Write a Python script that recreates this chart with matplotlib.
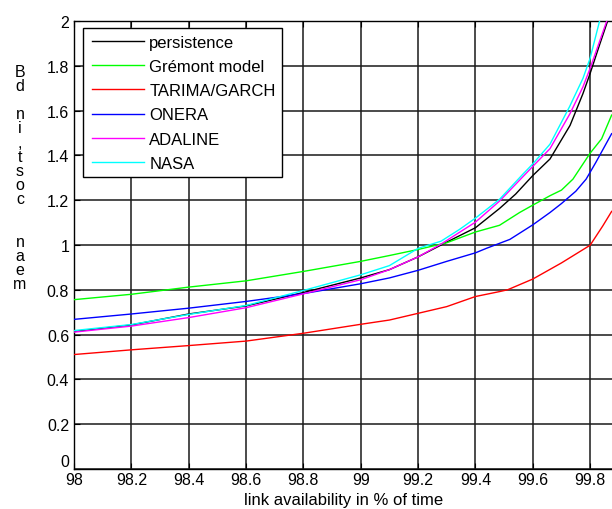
import matplotlib
matplotlib.use("Agg")
import matplotlib.pyplot as plt
from matplotlib.lines import Line2D
from matplotlib.legend_handler import HandlerLine2D

plt.rcParams['font.family'] = ['Liberation Sans', 'DejaVu Sans']

# ---- data ----
x_persistence = [98.0, 98.2, 98.4, 98.6, 98.8, 99.0, 99.1, 99.2, 99.3, 99.4, 99.484,
                 99.54, 99.6, 99.66, 99.73, 99.775, 99.8, 99.833, 99.861]
y_persistence = [0.614, 0.643, 0.692, 0.728, 0.788, 0.853, 0.89, 0.947, 1.013, 1.077, 1.163,
                 1.227, 1.31, 1.384, 1.534, 1.676, 1.766, 1.894, 2.0]

x_gremont = [98.0, 98.2, 98.4, 98.6, 98.8, 99.0, 99.1, 99.2, 99.3, 99.4, 99.484,
             99.554, 99.6, 99.66, 99.7, 99.74, 99.8, 99.84, 99.875]
y_gremont = [0.756, 0.78, 0.812, 0.84, 0.882, 0.927, 0.953, 0.98, 1.01, 1.058, 1.088,
             1.145, 1.178, 1.22, 1.245, 1.294, 1.41, 1.474, 1.58]

x_tarima = [98.0, 98.2, 98.4, 98.6, 98.8, 99.0, 99.1, 99.2, 99.3, 99.4, 99.484,
            99.512, 99.6, 99.7, 99.8, 99.844, 99.875]
y_tarima = [0.511, 0.532, 0.551, 0.571, 0.606, 0.646, 0.665, 0.695, 0.725, 0.77, 0.792,
            0.80, 0.848, 0.92, 0.999, 1.085, 1.15]

x_onera = [98.0, 98.2, 98.4, 98.6, 98.8, 99.0, 99.1, 99.2, 99.3, 99.4, 99.438,
           99.52, 99.6, 99.66, 99.7, 99.75, 99.786, 99.82, 99.875]
y_onera = [0.668, 0.692, 0.718, 0.748, 0.783, 0.827, 0.853, 0.887, 0.927, 0.965, 0.985,
           1.025, 1.09, 1.145, 1.185, 1.24, 1.294, 1.369, 1.497]

x_adaline = [98.0, 98.2, 98.4, 98.6, 98.8, 99.0, 99.1, 99.2, 99.28, 99.4, 99.484,
             99.6, 99.66, 99.73, 99.775, 99.8, 99.833, 99.858]
y_adaline = [0.611, 0.638, 0.676, 0.72, 0.782, 0.845, 0.89, 0.947, 1.004, 1.102, 1.196,
             1.351, 1.43, 1.587, 1.706, 1.789, 1.909, 2.0]

x_nasa = [98.0, 98.2, 98.4, 98.6, 98.8, 99.0, 99.1, 99.2, 99.28, 99.345, 99.4, 99.484,
          99.566, 99.6, 99.66, 99.728, 99.775, 99.8, 99.821, 99.833]
y_nasa = [0.618, 0.645, 0.69, 0.73, 0.797, 0.867, 0.908, 0.985, 1.017, 1.07, 1.12, 1.204,
          1.317, 1.362, 1.45, 1.617, 1.744, 1.834, 1.94, 2.0]

series_labels = ['persistence', 'Grémont model', 'TARIMA/GARCH', 'ONERA', 'ADALINE', 'NASA']
series_colors = ['#000000', '#00ff00', '#ff0000', '#0000ff', '#ff00ff', '#00ffff']

x_ticks = [98, 98.2, 98.4, 98.6, 98.8, 99, 99.2, 99.4, 99.6, 99.8]
x_ticklabels = ['98', '98.2', '98.4', '98.6', '98.8', '99', '99.2', '99.4', '99.6', '99.8']
y_ticks = [0, 0.2, 0.4, 0.6, 0.8, 1, 1.2, 1.4, 1.6, 1.8, 2]
y_ticklabels = ['0', '0.2', '0.4', '0.6', '0.8', '1', '1.2', '1.4', '1.6', '1.8', '2']

x_label = 'link availability in % of time'
y_label = 'mean cost, in dB'

# ---- figure ----
W, H = 612, 510
fig = plt.figure(figsize=(W / 100, H / 100), dpi=100)
ax_l, ax_r, ax_t, ax_b = 74, 612.5, 22, 470
ax = fig.add_axes([ax_l / W, 1 - ax_b / H, (ax_r - ax_l) / W, (ax_b - ax_t) / H])

xs = [x_persistence, x_gremont, x_tarima, x_onera, x_adaline, x_nasa]
ys = [y_persistence, y_gremont, y_tarima, y_onera, y_adaline, y_nasa]
for xv, yv, lab, col in zip(xs, ys, series_labels, series_colors):
    ax.plot(xv, yv, color=col, lw=1.0, label=lab, zorder=3)

ax.set_xlim(98, 99.878)
ax.set_ylim(0, 2)
ax.set_xticks(x_ticks)
ax.set_xticklabels(x_ticklabels)
ax.set_yticks(y_ticks)
ax.set_yticklabels(y_ticklabels)
ax.tick_params(direction='in', length=4, width=0.8, labelsize=11.5, colors='black',
               top=True, right=False)
ax.tick_params(axis='y', pad=3.5)
ax.tick_params(axis='x', pad=2.5)
# bottom y tick label sits just above the x axis, as in the reference
ax.get_yticklabels()[0].set_verticalalignment('bottom')
ax.grid(True, color='#1a1a1a', lw=1.1, ls='-', zorder=1)
for s in ['left', 'top', 'bottom']:
    ax.spines[s].set_linewidth(1.0)
    ax.spines[s].set_color('black')
ax.spines['right'].set_visible(False)

ax.set_xlabel(x_label, fontsize=12, labelpad=3.5)

# y label drawn as stacked upright characters, reversed (as in the reference)
stacked = '\n'.join(list('Bd')) + '\n\n' + '\n'.join(list('ni')) + '\n' + \
    '\n'.join(list(',tsoc')) + '\n\n\n' + '\n'.join(list('naem'))
fig.text(20 / W, 1 - 178.5 / H, stacked, ha='center', va='center', fontsize=11.5,
         linespacing=0.93, multialignment='center')

leg = ax.legend(loc='upper left',
                bbox_to_anchor=((82.7 - ax_l) / (ax_r - ax_l), 1 - (29.3 - ax_t) / (ax_b - ax_t)),
                borderaxespad=0, fontsize=12, frameon=True, fancybox=False, shadow=False,
                framealpha=1, edgecolor='black', handlelength=3.3, handletextpad=0.3,
                labelspacing=0.55, borderpad=0.4,
                handler_map={Line2D: HandlerLine2D(xpad=0.18)})
leg.get_frame().set_linewidth(1.0)
leg.set_zorder(5)

fig.savefig('out.png', dpi=100)
